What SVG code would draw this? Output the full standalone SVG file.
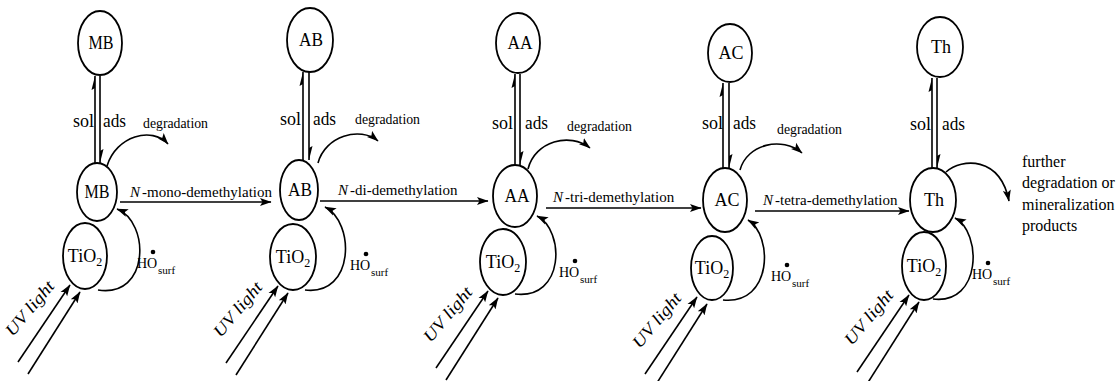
<svg xmlns="http://www.w3.org/2000/svg" width="1119" height="381" viewBox="0 0 1119 381">
  <defs>
    <marker id="head" markerUnits="userSpaceOnUse" markerWidth="13" markerHeight="9" refX="11" refY="4.5" orient="auto">
      <path d="M0,0.5 L11.5,4.5 L0,8.5 L2.5,4.5 Z" fill="#000"/>
    </marker>
    <style>
      .el { fill: #fff; stroke: #000; stroke-width: 1.8; }
      .ln { fill: none; stroke: #000; stroke-width: 1.6; }
      .ar { fill: none; stroke: #000; stroke-width: 1.6; marker-end: url(#head); }
      .hp { fill: #000; stroke: none; }
      text { font-family: "Liberation Serif", "Times New Roman", serif; fill: #000; }
      .lbl { font-size: 18px; text-anchor: middle; }
      .eq { font-size: 19px; }
      .deg { font-size: 14px; }
      .rx { font-size: 15px; }
      .ho { font-size: 14px; }
      .sub { font-size: 12px; }
      .hs { font-size: 11px; }
      .uv { font-size: 17px; font-style: italic; text-anchor: middle; }
      .fur { font-size: 16px; }
    </style>
  </defs>

  <!-- connectors: equilibria, degradation, demethylation, HO and UV arrows -->
  <g id="connectors">
    <!-- sol/ads equilibrium double lines with half heads -->
    <line class="ln" x1="95" y1="76" x2="95" y2="163"/><polygon class="hp" points="95,76 91.5,90 95,88"/>
    <line class="ln" x1="100" y1="76" x2="100" y2="163"/><polygon class="hp" points="100,163 103.5,149 100,151"/>
    <line class="ln" x1="303" y1="72" x2="303" y2="160"/><polygon class="hp" points="303,72 299.5,86 303,84"/>
    <line class="ln" x1="309" y1="72" x2="309" y2="160"/><polygon class="hp" points="309,160 312.5,146 309,148"/>
    <line class="ln" x1="515" y1="74" x2="515" y2="165"/><polygon class="hp" points="515,74 511.5,88 515,86"/>
    <line class="ln" x1="520" y1="74" x2="520" y2="165"/><polygon class="hp" points="520,165 523.5,151 520,153"/>
    <line class="ln" x1="723" y1="83" x2="723" y2="168"/><polygon class="hp" points="723,83 719.5,97 723,95"/>
    <line class="ln" x1="729" y1="83" x2="729" y2="168"/><polygon class="hp" points="729,168 732.5,154 729,156"/>
    <line class="ln" x1="932" y1="78" x2="932" y2="168"/><polygon class="hp" points="932,78 928.5,92 932,90"/>
    <line class="ln" x1="937" y1="78" x2="937" y2="168"/><polygon class="hp" points="937,168 940.5,154 937,156"/>

    <!-- degradation arcs -->
    <path class="ar" d="M107,166 C116,136 152,126 168,144"/>
    <path class="ar" d="M318,163 C325,136 360,126 378,141"/>
    <path class="ar" d="M528,169 C535,141 570,132 590,148"/>
    <path class="ar" d="M740,170 C747,144 782,136 802,153"/>
    <path class="ar" d="M946,172 C962,158 1000,156 1009,201"/>

    <!-- demethylation steps -->
    <line class="ar" x1="120" y1="202" x2="271" y2="202"/>
    <line class="ar" x1="320" y1="201" x2="488" y2="201"/>
    <line class="ar" x1="546" y1="208" x2="701" y2="208"/>
    <line class="ar" x1="755" y1="211" x2="909" y2="211"/>

    <!-- surface HO radical loops -->
    <path class="ar" d="M98,290 C150,298 150,222 117,209"/>
    <path class="ar" d="M305,290 C355,296 355,222 325,207"/>
    <path class="ar" d="M515,294 C565,300 565,230 537,216"/>
    <path class="ar" d="M723,300 C773,305 773,235 748,220"/>
    <path class="ar" d="M933,299 C982,305 982,232 955,218"/>

    <!-- UV light pairs -->
    <line class="ar" x1="18" y1="362" x2="70" y2="285"/>
    <line class="ar" x1="28" y1="374" x2="80" y2="292"/>
    <line class="ar" x1="226" y1="363" x2="278" y2="286"/>
    <line class="ar" x1="236" y1="375" x2="288" y2="293"/>
    <line class="ar" x1="436" y1="368" x2="488" y2="291"/>
    <line class="ar" x1="446" y1="380" x2="498" y2="298"/>
    <line class="ar" x1="645" y1="374" x2="697" y2="297"/>
    <line class="ar" x1="655" y1="386" x2="707" y2="304"/>
    <line class="ar" x1="857" y1="372" x2="909" y2="295"/>
    <line class="ar" x1="867" y1="384" x2="919" y2="302"/>
  </g>

  <!-- labels on connectors -->
  <g id="connector-labels">
    <text class="eq" x="73" y="127" textLength="21" lengthAdjust="spacingAndGlyphs">sol</text><text class="eq" x="103" y="127" textLength="23" lengthAdjust="spacingAndGlyphs">ads</text>
    <text class="eq" x="280" y="125" textLength="21" lengthAdjust="spacingAndGlyphs">sol</text><text class="eq" x="313" y="125" textLength="23" lengthAdjust="spacingAndGlyphs">ads</text>
    <text class="eq" x="492" y="129" textLength="21" lengthAdjust="spacingAndGlyphs">sol</text><text class="eq" x="525" y="129" textLength="23" lengthAdjust="spacingAndGlyphs">ads</text>
    <text class="eq" x="702" y="129" textLength="21" lengthAdjust="spacingAndGlyphs">sol</text><text class="eq" x="733" y="129" textLength="23" lengthAdjust="spacingAndGlyphs">ads</text>
    <text class="eq" x="910" y="130" textLength="21" lengthAdjust="spacingAndGlyphs">sol</text><text class="eq" x="942" y="130" textLength="23" lengthAdjust="spacingAndGlyphs">ads</text>

    <text class="deg" x="143" y="128" textLength="65" lengthAdjust="spacingAndGlyphs">degradation</text>
    <text class="deg" x="355" y="124" textLength="65" lengthAdjust="spacingAndGlyphs">degradation</text>
    <text class="deg" x="567" y="131" textLength="65" lengthAdjust="spacingAndGlyphs">degradation</text>
    <text class="deg" x="777" y="134" textLength="65" lengthAdjust="spacingAndGlyphs">degradation</text>

    <text class="rx" x="130" y="197"><tspan font-style="italic">N</tspan><tspan dx="2">-mono-demethylation</tspan></text>
    <text class="rx" x="338" y="195"><tspan font-style="italic">N</tspan><tspan dx="2">-di-demethylation</tspan></text>
    <text class="rx" x="553" y="202"><tspan font-style="italic">N</tspan><tspan dx="2">-tri-demethylation</tspan></text>
    <text class="rx" x="763" y="205"><tspan font-style="italic">N</tspan><tspan dx="2">-tetra-demethylation</tspan></text>

    <!-- surface hydroxyl radical: HO, radical dot, "surf" subscript -->
    <text class="ho" x="137" y="268">HO</text><circle cx="153" cy="252" r="2.3"/><text class="hs" x="158" y="274">surf</text>
    <text class="ho" x="350" y="270">HO</text><circle cx="366" cy="254" r="2.3"/><text class="hs" x="371" y="276">surf</text>
    <text class="ho" x="559" y="277">HO</text><circle cx="575" cy="261" r="2.3"/><text class="hs" x="580" y="283">surf</text>
    <text class="ho" x="771" y="281">HO</text><circle cx="787" cy="265" r="2.3"/><text class="hs" x="792" y="287">surf</text>
    <text class="ho" x="972" y="279">HO</text><circle cx="988" cy="263" r="2.3"/><text class="hs" x="993" y="285">surf</text>

    <text class="uv" transform="translate(34,312) rotate(-50)" textLength="66" lengthAdjust="spacingAndGlyphs">UV  light</text>
    <text class="uv" transform="translate(242,313) rotate(-50)" textLength="66" lengthAdjust="spacingAndGlyphs">UV  light</text>
    <text class="uv" transform="translate(452,318) rotate(-50)" textLength="66" lengthAdjust="spacingAndGlyphs">UV  light</text>
    <text class="uv" transform="translate(661,324) rotate(-50)" textLength="66" lengthAdjust="spacingAndGlyphs">UV  light</text>
    <text class="uv" transform="translate(873,321) rotate(-50)" textLength="66" lengthAdjust="spacingAndGlyphs">UV  light</text>

    <text class="fur" x="1022" y="167">further</text>
    <text class="fur" x="1022" y="188">degradation or</text>
    <text class="fur" x="1022" y="210">mineralization</text>
    <text class="fur" x="1022" y="231">products</text>
  </g>

  <!-- methylene blue -->
  <g id="mb-sol"><ellipse class="el" cx="100" cy="43" rx="22" ry="32"/><text class="lbl" x="101" y="49" textLength="25" lengthAdjust="spacingAndGlyphs">MB</text></g>
  <g id="mb-ads"><ellipse class="el" cx="97" cy="192" rx="20" ry="29"/><text class="lbl" x="97" y="198" textLength="25" lengthAdjust="spacingAndGlyphs">MB</text></g>
  <g id="tio2-1"><ellipse class="el" cx="85" cy="256" rx="22" ry="33"/><text class="lbl" x="85" y="262">TiO<tspan class="sub" dy="4">2</tspan></text></g>

  <!-- azure B -->
  <g id="ab-sol"><ellipse class="el" cx="310" cy="40" rx="23" ry="32"/><text class="lbl" x="311" y="46" textLength="24" lengthAdjust="spacingAndGlyphs">AB</text></g>
  <g id="ab-ads"><ellipse class="el" cx="299" cy="190" rx="19" ry="30"/><text class="lbl" x="300" y="196" textLength="24" lengthAdjust="spacingAndGlyphs">AB</text></g>
  <g id="tio2-2"><ellipse class="el" cx="293" cy="257" rx="23" ry="33"/><text class="lbl" x="293" y="263">TiO<tspan class="sub" dy="4">2</tspan></text></g>

  <!-- azure A -->
  <g id="aa-sol"><ellipse class="el" cx="518" cy="43" rx="22" ry="30"/><text class="lbl" x="520" y="49" textLength="25" lengthAdjust="spacingAndGlyphs">AA</text></g>
  <g id="aa-ads"><ellipse class="el" cx="515" cy="196" rx="22" ry="31"/><text class="lbl" x="517" y="202" textLength="25" lengthAdjust="spacingAndGlyphs">AA</text></g>
  <g id="tio2-3"><ellipse class="el" cx="503" cy="262" rx="23" ry="33"/><text class="lbl" x="503" y="268">TiO<tspan class="sub" dy="4">2</tspan></text></g>

  <!-- azure C -->
  <g id="ac-sol"><ellipse class="el" cx="730" cy="53" rx="22" ry="29"/><text class="lbl" x="731" y="59" textLength="25" lengthAdjust="spacingAndGlyphs">AC</text></g>
  <g id="ac-ads"><ellipse class="el" cx="725" cy="200" rx="22" ry="32"/><text class="lbl" x="727" y="206" textLength="25" lengthAdjust="spacingAndGlyphs">AC</text></g>
  <g id="tio2-4"><ellipse class="el" cx="712" cy="268" rx="21" ry="32"/><text class="lbl" x="712" y="274">TiO<tspan class="sub" dy="4">2</tspan></text></g>

  <!-- thionine -->
  <g id="th-sol"><ellipse class="el" cx="940" cy="47" rx="23" ry="30"/><text class="lbl" x="941" y="53">Th</text></g>
  <g id="th-ads"><ellipse class="el" cx="933" cy="200" rx="23" ry="32"/><text class="lbl" x="934" y="206">Th</text></g>
  <g id="tio2-5"><ellipse class="el" cx="924" cy="266" rx="22" ry="34"/><text class="lbl" x="924" y="272">TiO<tspan class="sub" dy="4">2</tspan></text></g>
</svg>
